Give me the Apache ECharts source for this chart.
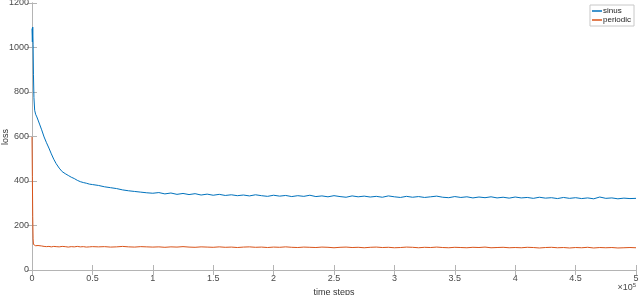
<!DOCTYPE html>
<html><head><meta charset="utf-8">
<script src="https://cdn.jsdelivr.net/npm/echarts@6/dist/echarts.min.js"></script>
<style>html,body{margin:0;padding:0;background:#fff}#c{width:640px;height:295px}</style>
</head><body><div id="c"></div>
<script>
var steps = [0,300,600,900,1200,1600,2200,3000,4000,5000,6500,8000,10000,12000,14000,16000,18000,20000,22500,25000,27500,30000,32500,35000,37500,40000,42500,45000,47500,50000,
55000,60000,65000,70000,75000,80000,85000,90000,95000,100000,
105000,110000,115000,120000,125000,130000,135000,140000,145000,150000,
155000,160000,165000,170000,175000,180000,185000,190000,195000,200000,
205000,210000,215000,220000,225000,230000,235000,240000,245000,250000,
255000,260000,265000,270000,275000,280000,285000,290000,295000,300000,
305000,310000,315000,320000,325000,330000,335000,340000,345000,350000,
355000,360000,365000,370000,375000,380000,385000,390000,395000,400000,
405000,410000,415000,420000,425000,430000,435000,440000,445000,450000,
455000,460000,465000,470000,475000,480000,485000,490000,495000,500000];

var sinus = [1085,1025,1092,1015,880,775,718,700,688,674,652,630,598,572,548,522,498,478,458,442,433,425,417,411,403,397,393,390,386,384,
380,374,370,366,360,356,353,350,347,345,
348,342,346,340,344,339,343,337,341,336,
340,335,338,334,337,333,338,334,331,336,
332,335,330,334,331,336,330,333,329,334,
330,327,333,329,332,328,331,327,333,329,
326,331,327,330,326,329,332,327,325,330,
326,329,324,328,325,329,324,327,323,328,
324,326,322,327,323,325,321,326,322,325,
321,324,320,328,322,324,320,323,321,322];

var periodic = [598,420,240,140,115,111,110,109,108,110,107,108,106,
105,106,104,106,105,104,106,105,103,105,104,106,104,105,103,104,105,
104,105,103,104,106,104,103,105,104,103,
104,102,104,103,105,103,102,104,103,102,
104,102,103,101,103,104,102,103,101,103,
102,104,102,101,103,102,101,103,102,100,
102,103,101,102,100,102,103,101,102,100,
101,103,102,100,102,101,103,101,100,102,
101,100,102,101,103,100,101,102,100,101,
100,102,101,99,101,102,100,101,99,101,
100,102,99,101,100,101,99,100,101,100];

var xTicks = ['0','0.5','1','1.5','2','2.5','3','3.5','4','4.5','5'];
var seriesNames = ['sinus','periodic'];

function pairs(v){ return steps.map(function(s,i){ return [s, v[i]]; }); }

var axisCol = '#b4b4b4';
var txtCol = '#4a4a4a';
var font = 'Liberation Sans, Arial, sans-serif';

var chart = echarts.init(document.getElementById('c'), null, {renderer:'canvas'});
chart.setOption({
  animation:false,
  backgroundColor:'#fff',
  grid:{left:32, right:4, top:3, bottom:25, containLabel:false, outerBoundsMode:'none'},
  legend:{
    orient:'vertical', right:6, top:5, padding:[2,3,2,2], itemGap:1,
    itemWidth:10, itemHeight:1.5, icon:'rect',
    borderColor:'#c8c8c8', borderWidth:1, backgroundColor:'#fff',
    textStyle:{fontSize:8, color:'#222', fontFamily:font, padding:[0,0,0,-4]},
    data:seriesNames
  },
  xAxis:[{
    type:'value', min:0, max:500000, interval:50000, position:'bottom',
    name:'time steps', nameLocation:'middle', nameGap:14,
    nameTextStyle:{fontSize:9, color:'#333', fontFamily:font},
    axisLine:{show:true, lineStyle:{color:axisCol, width:1}},
    axisTick:{show:true, inside:true, length:5, lineStyle:{color:axisCol}},
    axisLabel:{fontSize:9, color:txtCol, fontFamily:font, margin:4,
      formatter:function(v){ return xTicks[Math.round(v/50000)]; }},
    splitLine:{show:false}
  },{
    type:'value', min:0, max:500000, interval:50000, position:'top',
    axisLine:{show:true, lineStyle:{color:axisCol, width:1}},
    axisTick:{show:true, inside:true, length:5, lineStyle:{color:axisCol}},
    axisLabel:{show:false}, splitLine:{show:false}
  }],
  yAxis:[{
    type:'value', min:0, max:1200, interval:200, position:'left',
    axisLine:{show:true, lineStyle:{color:axisCol, width:1}},
    axisTick:{show:true, inside:true, length:5, lineStyle:{color:axisCol}},
    axisLabel:{fontSize:9, color:txtCol, fontFamily:font, margin:3,
      formatter:function(v){ return String(v); }},
    splitLine:{show:false}
  },{
    type:'value', min:0, max:1200, interval:200, position:'right',
    axisLine:{show:true, lineStyle:{color:axisCol, width:1}},
    axisTick:{show:true, inside:true, length:5, lineStyle:{color:axisCol}},
    axisLabel:{show:false}, splitLine:{show:false}
  }],
  series:[{
    name:seriesNames[0], type:'line', xAxisIndex:0, yAxisIndex:0,
    showSymbol:false, symbol:'none', color:'#0072BD',
    lineStyle:{width:1, color:'#0072BD'}, data:pairs(sinus)
  },{
    name:seriesNames[1], type:'line', xAxisIndex:0, yAxisIndex:0,
    showSymbol:false, symbol:'none', color:'#D95319',
    lineStyle:{width:1, color:'#D95319'}, data:pairs(periodic)
  }],
  graphic:[{
    type:'text', right:4, top:282,
    style:{rich:{a:{fontSize:9, fill:txtCol, fontFamily:font}, b:{fontSize:6, fill:txtCol, fontFamily:font, verticalAlign:'top', padding:[0,0,5,0]}},
      text:'{a|×10}{b|5}'}
  },{
    type:'text', x:6, y:137, rotation:Math.PI/2,
    style:{text:'loss', fontSize:9, fill:'#333', fontFamily:font, align:'center', verticalAlign:'middle'}
  }]
});
</script></body></html>
